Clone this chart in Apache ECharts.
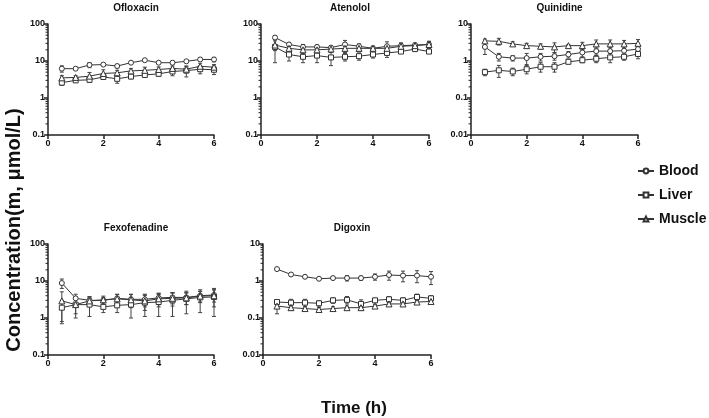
<!DOCTYPE html>
<html>
<head>
<meta charset="utf-8">
<script src="https://cdn.jsdelivr.net/npm/echarts@6/dist/echarts.min.js"></script>
<style>html,body{margin:0;padding:0;background:#fff}#c{width:709px;height:418px}</style>
</head>
<body>
<div id="c"></div>
<script>
var times = [0.5, 1, 1.5, 2, 2.5, 3, 3.5, 4, 4.5, 5, 5.5, 6];
var seriesNames = ['Blood', 'Liver', 'Muscle'];
var drugNames = ['Ofloxacin', 'Atenolol', 'Quinidine', 'Fexofenadine', 'Digoxin'];
var yMins = [0.1, 0.1, 0.01, 0.1, 0.01];
var yMaxs = [100, 100, 10, 100, 10];

// Ofloxacin
var oflBlood = [6.2, 6.2, 7.8, 8.0, 7.3, 9.0, 10.5, 9.0, 9.0, 9.8, 11, 11];
var oflBloodSD = [1.2, 0.5, 1.2, 0.5, 0.8, 0.5, 0.5, 0.5, 0.6, 0.6, 1.0, 1.5];
var oflLiver = [2.6, 3.0, 3.1, 3.7, 3.3, 3.8, 4.2, 4.5, 5.2, 5.5, 6.0, 5.8];
var oflLiverSD = [0.4, 0.3, 0.4, 0.5, 0.8, 0.5, 0.6, 0.6, 1.2, 1.8, 1.5, 1.5];
var oflMuscle = [3.5, 3.6, 3.9, 4.6, 4.8, 5.4, 5.6, 5.9, 6.3, 6.0, 7.2, 6.8];
var oflMuscleSD = [0.5, 0.4, 1.0, 1.2, 0.8, 0.8, 1.2, 1.0, 1.0, 1.2, 1.5, 1.2];
// Atenolol
var ateBlood = [43, 28, 24, 24, 23, 28, 25, 22, 25, 26, 27, 28];
var ateBloodSD = [5, 3, 4, 3, 3, 8, 4, 3, 8, 5, 3, 6];
var ateLiver = [24, 15, 13, 14, 12.5, 13, 13.5, 15, 16.5, 18, 21, 18];
var ateLiverSD = [15, 5, 4, 5, 5, 3, 3, 3, 4, 2, 3, 2];
var ateMuscle = [27, 22, 20, 20, 21, 22, 22, 22, 22, 25, 26, 28];
var ateMuscleSD = [8, 4, 4, 4, 4, 5, 4, 3, 5, 4, 4, 6];
// Quinidine
var quiBlood = [2.4, 1.3, 1.2, 1.2, 1.3, 1.35, 1.5, 1.7, 1.85, 1.85, 1.9, 2.1];
var quiBloodSD = [0.9, 0.3, 0.2, 0.4, 0.3, 0.3, 0.3, 0.4, 0.4, 0.5, 0.5, 0.6];
var quiLiver = [0.5, 0.56, 0.52, 0.6, 0.7, 0.7, 0.95, 1.05, 1.15, 1.25, 1.3, 1.55];
var quiLiverSD = [0.1, 0.2, 0.12, 0.15, 0.2, 0.2, 0.1, 0.15, 0.25, 0.35, 0.25, 0.4];
var quiMuscle = [3.5, 3.4, 2.9, 2.6, 2.5, 2.4, 2.6, 2.6, 2.9, 2.9, 2.9, 3.0];
var quiMuscleSD = [0.4, 0.7, 0.4, 0.4, 0.4, 0.7, 0.2, 0.6, 0.8, 0.8, 0.7, 0.8];
// Fexofenadine
var fexBlood = [8.8, 3.4, 3.0, 3.0, 3.4, 3.2, 3.2, 3.5, 3.6, 3.6, 4.0, 4.2];
var fexBloodSD = [2.5, 1.0, 0.8, 0.6, 1.0, 1.2, 1.2, 1.2, 1.2, 1.3, 1.3, 1.5];
var fexLiver = [1.9, 2.3, 2.3, 2.0, 2.2, 2.3, 2.6, 2.7, 3.0, 3.3, 3.6, 3.7];
var fexLiverSD = [1.1, 1.3, 1.2, 0.6, 0.8, 1.3, 1.5, 1.6, 1.9, 2.0, 2.2, 2.6];
var fexMuscle = [2.9, 2.3, 2.9, 3.1, 3.3, 3.1, 2.9, 3.3, 3.4, 3.5, 3.9, 4.0];
var fexMuscleSD = [2.2, 1.0, 0.8, 0.8, 1.0, 1.2, 1.3, 1.3, 1.3, 1.2, 1.3, 2.0];
// Digoxin
var digBlood = [2.1, 1.5, 1.3, 1.15, 1.2, 1.2, 1.2, 1.3, 1.45, 1.4, 1.4, 1.3];
var digBloodSD = [0.1, 0.1, 0.1, 0.1, 0.1, 0.2, 0.15, 0.25, 0.4, 0.45, 0.5, 0.5];
var digLiver = [0.27, 0.26, 0.26, 0.25, 0.30, 0.31, 0.24, 0.30, 0.32, 0.30, 0.37, 0.34];
var digLiverSD = [0.04, 0.06, 0.06, 0.04, 0.05, 0.07, 0.07, 0.04, 0.06, 0.05, 0.07, 0.06];
var digMuscle = [0.21, 0.19, 0.18, 0.17, 0.18, 0.19, 0.19, 0.21, 0.24, 0.24, 0.27, 0.28];
var digMuscleSD = [0.08, 0.03, 0.02, 0.02, 0.02, 0.02, 0.03, 0.02, 0.02, 0.02, 0.02, 0.03];

var panelData = [
  [[oflBlood, oflBloodSD], [oflLiver, oflLiverSD], [oflMuscle, oflMuscleSD]],
  [[ateBlood, ateBloodSD], [ateLiver, ateLiverSD], [ateMuscle, ateMuscleSD]],
  [[quiBlood, quiBloodSD], [quiLiver, quiLiverSD], [quiMuscle, quiMuscleSD]],
  [[fexBlood, fexBloodSD], [fexLiver, fexLiverSD], [fexMuscle, fexMuscleSD]],
  [[digBlood, digBloodSD], [digLiver, digLiverSD], [digMuscle, digMuscleSD]]
];

var grids = [
  {left: 48, top: 24, width: 166, height: 111},
  {left: 261, top: 24, width: 168, height: 111},
  {left: 471, top: 24, width: 167, height: 111},
  {left: 48, top: 244, width: 166, height: 111},
  {left: 263, top: 244, width: 168, height: 111}
];
var symbols = ['circle', 'rect', 'triangle'];
var FONT = '"Liberation Sans", Arial, sans-serif';
var INK = '#222';

var option = {
  animation: false,
  backgroundColor: '#fff',
  grid: grids,
  xAxis: [], yAxis: [], series: [], title: [],
  legend: {
    orient: 'vertical', left: 632, top: 159, itemWidth: 16, itemHeight: 6, itemGap: 10,
    data: seriesNames,
    textStyle: {fontFamily: FONT, fontWeight: 'bold', fontSize: 14, color: '#111'}
  },
  graphic: [
    {type: 'text', x: 24, y: 230, rotation: Math.PI / 2,
     style: {text: 'Concentration(m, μmol/L)', font: 'bold 20px ' + FONT, fill: '#111', align: 'center', verticalAlign: 'bottom'}},
    {type: 'text', x: 354, y: 408,
     style: {text: 'Time (h)', font: 'bold 17px ' + FONT, fill: '#111', align: 'center', verticalAlign: 'middle'}}
  ]
};

for (var p = 0; p < 5; p++) {
  var g = grids[p];
  option.title.push({text: drugNames[p], left: g.left + g.width / 2, top: g.top - 26, textAlign: 'center',
    textStyle: {fontFamily: FONT, fontWeight: 'bold', fontSize: 10, color: '#111'}});
  option.xAxis.push({type: 'value', gridIndex: p, min: 0, max: 6, interval: 2,
    axisLine: {show: true, lineStyle: {color: INK, width: 1.5}},
    axisTick: {show: true, length: 4, lineStyle: {color: INK, width: 1.5}},
    splitLine: {show: false},
    axisLabel: {fontFamily: FONT, fontWeight: 'bold', fontSize: 9, color: '#111', margin: 4}});
  option.yAxis.push({type: 'log', logBase: 10, gridIndex: p, min: yMins[p], max: yMaxs[p],
    axisLine: {show: true, lineStyle: {color: INK, width: 1.5}},
    axisTick: {show: true, length: 4, lineStyle: {color: INK, width: 1.5}},
    minorTick: {show: false},
    splitLine: {show: false},
    axisLabel: {fontFamily: FONT, fontWeight: 'bold', fontSize: 9, color: '#111', margin: 3,
      formatter: function (v) { return String(+v.toPrecision(3)); }}});
  // minor log ticks (axis decoration)
  (function (pi) {
    var ticks = [];
    for (var d = yMins[pi]; d < yMaxs[pi] * 0.999; d *= 10) {
      for (var k = 2; k <= 9; k++) ticks.push([0, d * k]);
    }
    option.series.push({type: 'custom', xAxisIndex: pi, yAxisIndex: pi, silent: true, clip: false, z: 3,
      data: ticks,
      renderItem: function (params, api) {
        var pt = api.coord([0, api.value(1)]);
        return {type: 'line', shape: {x1: pt[0] - 2.5, y1: pt[1], x2: pt[0], y2: pt[1]},
          style: {stroke: INK, lineWidth: 1}};
      }});
  })(p);
  for (var s = 0; s < 3; s++) {
    var vals = panelData[p][s][0], sd = panelData[p][s][1];
    var lineData = [], errData = [];
    for (var i = 0; i < times.length; i++) {
      lineData.push([times[i], vals[i]]);
      errData.push([times[i], vals[i], sd[i]]);
    }
    (function (pi) {
      option.series.push({type: 'custom', xAxisIndex: pi, yAxisIndex: pi, silent: true, z: 2,
        data: errData,
        renderItem: function (params, api) {
          var x = api.value(0), y = api.value(1), e = api.value(2);
          var lo = Math.max(y - e, yMins[pi]);
          var top = api.coord([x, y + e]), bot = api.coord([x, lo]);
          var st = {stroke: '#444', lineWidth: 1};
          return {type: 'group', children: [
            {type: 'line', shape: {x1: top[0], y1: top[1], x2: bot[0], y2: bot[1]}, style: st},
            {type: 'line', shape: {x1: top[0] - 2, y1: top[1], x2: top[0] + 2, y2: top[1]}, style: st},
            {type: 'line', shape: {x1: bot[0] - 2, y1: bot[1], x2: bot[0] + 2, y2: bot[1]}, style: st}
          ]};
        }});
    })(p);
    option.series.push({type: 'line', name: seriesNames[s], xAxisIndex: p, yAxisIndex: p, z: 4,
      data: lineData, symbol: symbols[s], symbolSize: s === 2 ? 6 : 5, showSymbol: true,
      lineStyle: {color: '#333', width: 1},
      itemStyle: {color: '#fff', borderColor: '#333', borderWidth: 1}});
  }
}

var chart = echarts.init(document.getElementById('c'));
chart.setOption(option);
</script>
</body>
</html>
